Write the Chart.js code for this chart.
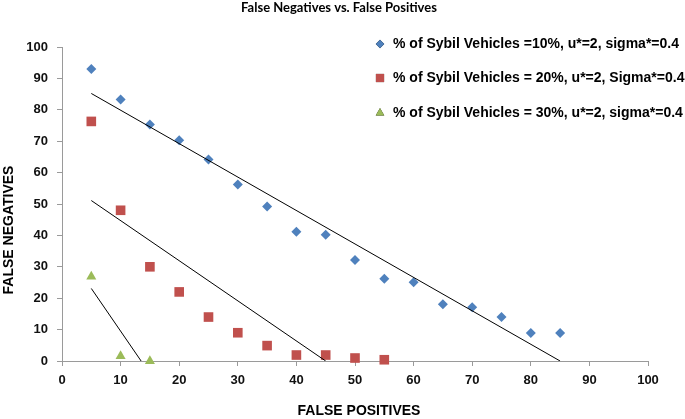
<!DOCTYPE html>
<html>
<head>
<meta charset="utf-8">
<script src="https://cdn.jsdelivr.net/npm/chart.js@4.4.1/dist/chart.umd.min.js"></script>
<style>
html,body{margin:0;padding:0;background:#fff;}
#wrap{width:685px;height:419px;position:relative;}
</style>
</head>
<body>
<div id="wrap"><canvas id="c" width="685" height="419"></canvas></div>
<script>
// ---- data ----
const chartTitle = "False Negatives vs. False Positives";
const xAxisTitle = "FALSE POSITIVES";
const yAxisTitle = "FALSE NEGATIVES";
const seriesLabels = [
  "% of Sybil Vehicles =10%, u*=2, sigma*=0.4",
  "% of Sybil Vehicles = 20%, u*=2, Sigma*=0.4",
  "% of Sybil Vehicles = 30%, u*=2, sigma*=0.4"
];
const fp10 = [5,10,15,20,25,30,35,40,45,50,55,60,65,70,75,80,85];
const fn10 = [93,83.3,75.3,70.3,64.2,56.2,49.2,41.2,40.2,32.2,26.2,25.1,18.1,17.1,14,8.9,8.9];
const fp20 = [5,10,15,20,25,30,35,40,45,50,55];
const fn20 = [76.3,48,30,22,14,9,4.9,1.9,1.9,0.95,0.4];
const fp30 = [5,10,15];
const fn30 = [26.9,1.6,0];
// linear trend lines (start / end points)
const trend10X = [5,85];   const trend10Y = [85.2,0];
const trend20X = [5,45];   const trend20Y = [51.1,0];
const trend30X = [5,13.5]; const trend30Y = [23.1,0];
const xTicks = [0,10,20,30,40,50,60,70,80,90,100];
const yTicks = [0,10,20,30,40,50,60,70,80,90,100];

const pts = (xs, ys) => xs.map((x, i) => ({x: x, y: ys[i]}));
const colors = ['#4F81BD', '#C0504D', '#9BBB59'];
const styles = ['rectRot', 'rect', 'triangle'];
const radii = [5, 6.8, 5.8];

const datasets = [
  {label: seriesLabels[0], data: pts(fp10, fn10)},
  {label: seriesLabels[1], data: pts(fp20, fn20)},
  {label: seriesLabels[2], data: pts(fp30, fn30)}
].map((d, i) => Object.assign(d, {
  type: 'scatter', backgroundColor: colors[i], borderColor: colors[i], borderWidth: 0,
  pointStyle: styles[i], pointRadius: radii[i], pointHoverRadius: radii[i], clip: false, order: 2
}));
[[trend10X, trend10Y], [trend20X, trend20Y], [trend30X, trend30Y]].forEach(([xs, ys]) => {
  datasets.push({type: 'line', label: 'trend', data: pts(xs, ys), borderColor: '#000', borderWidth: 1,
    pointRadius: 0, fill: false, tension: 0, order: 1});
});

const AREA = {left: 62, right: 648, top: 47, bottom: 361};

const decor = {
  id: 'decor',
  afterDraw(chart) {
    const ctx = chart.ctx;
    ctx.save();
    ctx.fillStyle = '#000';
    // title
    ctx.font = 'bold 13px Lato';
    ctx.textAlign = 'center'; ctx.textBaseline = 'middle';
    ctx.fillText(chartTitle, 339, 8);
    // axis titles
    ctx.font = 'bold 14px "Liberation Sans", Arial';
    ctx.fillText(xAxisTitle, 359, 411);
    ctx.save();
    ctx.translate(9, 230); ctx.rotate(-Math.PI / 2);
    ctx.fillText(yAxisTitle, 0, 0);
    ctx.restore();
    // legend
    ctx.textAlign = 'left';
    const rowsY = [44, 78, 113];
    for (let i = 0; i < 3; i++) {
      const ds = chart.data.datasets[i];
      const r = ds.pointRadius * 0.85;
      Chart.helpers.drawPoint(ctx, {pointStyle: ds.pointStyle, radius: r, borderWidth: 0, rotation: 0}, 380, rowsY[i]);
      ctx.fillStyle = ds.backgroundColor;
      ctx.fill();
      ctx.fillStyle = '#000';
      ctx.fillText(ds.label, 393, rowsY[i]);
    }
    ctx.restore();
  }
};

const axisCol = '#9a9a9a';
new Chart(document.getElementById('c'), {
  data: {datasets: datasets},
  options: {
    responsive: false, animation: false, devicePixelRatio: 1,
    layout: {padding: {left: 0, top: AREA.top, right: 685 - AREA.right, bottom: 0}},
    plugins: {legend: {display: false}, title: {display: false}, tooltip: {enabled: false}},
    scales: {
      x: {
        type: 'linear', min: 0, max: 100,
        afterFit: s => { s.height = 419 - AREA.bottom; },
        afterBuildTicks: s => { s.ticks = xTicks.map(v => ({value: v})); },
        grid: {drawOnChartArea: false, drawTicks: true, tickLength: 5, color: axisCol},
        border: {color: axisCol, width: 1},
        ticks: {color: '#111', font: {family: '"Liberation Sans", Arial', size: 13, weight: 'bold'}, padding: 7, maxRotation: 0}
      },
      y: {
        type: 'linear', min: 0, max: 100,
        afterFit: s => { s.width = AREA.left; },
        afterBuildTicks: s => { s.ticks = yTicks.map(v => ({value: v})); },
        grid: {drawOnChartArea: false, drawTicks: true, tickLength: 5, color: axisCol},
        border: {color: axisCol, width: 1},
        ticks: {color: '#111', font: {family: '"Liberation Sans", Arial', size: 13, weight: 'bold'}, padding: 9}
      }
    }
  },
  plugins: [decor]
});
</script>
</body>
</html>
